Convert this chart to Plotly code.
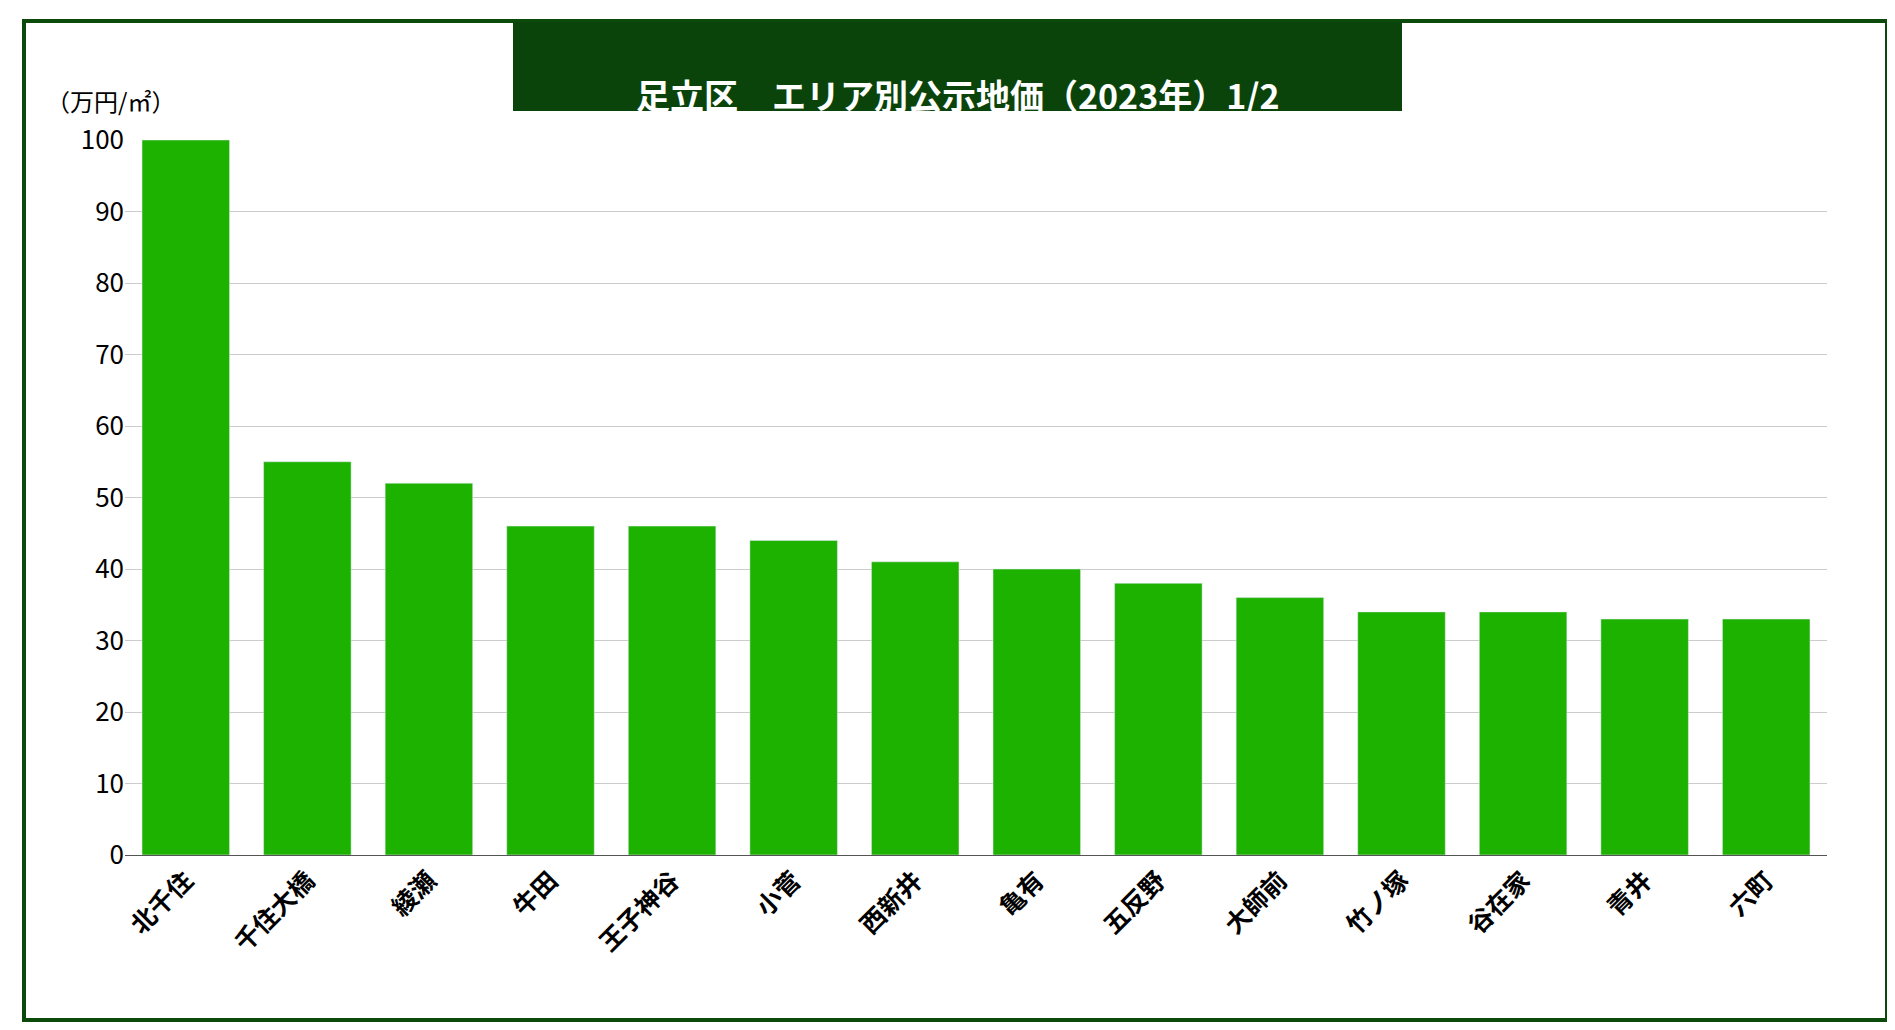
import plotly.graph_objects as go

areas = ["北千住", "千住大橋", "綾瀬", "牛田", "王子神谷", "小菅", "西新井", "亀有",
         "五反野", "大師前", "竹ノ塚", "谷在家", "青井", "六町"]
prices = [100, 55, 52, 46, 46, 44, 41, 40, 38, 36, 34, 34, 33, 33]

W, H = 1895, 1030
L, R, T, B = 117, 1819, 132, 847


def px(x):
    return (x - L) / (R - L)


def py(y):
    return (B - y) / (B - T)


font = "Noto Sans CJK JP"
fig = go.Figure(go.Bar(x=areas, y=prices, marker_color="#1db100", width=0.72))

fig.update_layout(
    width=W, height=H,
    margin=dict(l=L, r=W - R, t=T, b=H - B),
    plot_bgcolor="white", paper_bgcolor="white",
    showlegend=False,
    font=dict(family=font, size=24, color="black"),
    bargap=0.28,
)
fig.update_xaxes(tickangle=-45, tickfont=dict(size=25, family=font, weight="bold"),
                 showline=True, linecolor="#555", linewidth=1, ticks="")
fig.update_yaxes(range=[0, 100], dtick=10, gridcolor="#cccccc", gridwidth=1,
                 tickfont=dict(size=26, family=font), zeroline=False, ticks="")

fig.add_shape(type="rect", xref="paper", yref="paper",
              x0=px(16), x1=px(1879), y0=py(1012), y1=py(13),
              line=dict(color="#0b4a0b", width=4), fillcolor="rgba(0,0,0,0)")
fig.add_shape(type="rect", xref="paper", yref="paper",
              x0=px(505), x1=px(1394), y0=py(103), y1=py(14),
              line=dict(width=0), fillcolor="#0b440b")
fig.add_annotation(xref="paper", yref="paper", x=(px(505) + px(1394)) / 2, y=py(60),
                   text="足立区　エリア別公示地価（2023年）1/2", showarrow=False,
                   font=dict(size=34, color="white", family=font, weight="bold"))
fig.add_annotation(xref="paper", yref="paper", x=px(36), y=py(73), xanchor="left",
                   text="（万円/㎡）", showarrow=False, font=dict(size=24, family=font))

fig.write_html("out.html")
